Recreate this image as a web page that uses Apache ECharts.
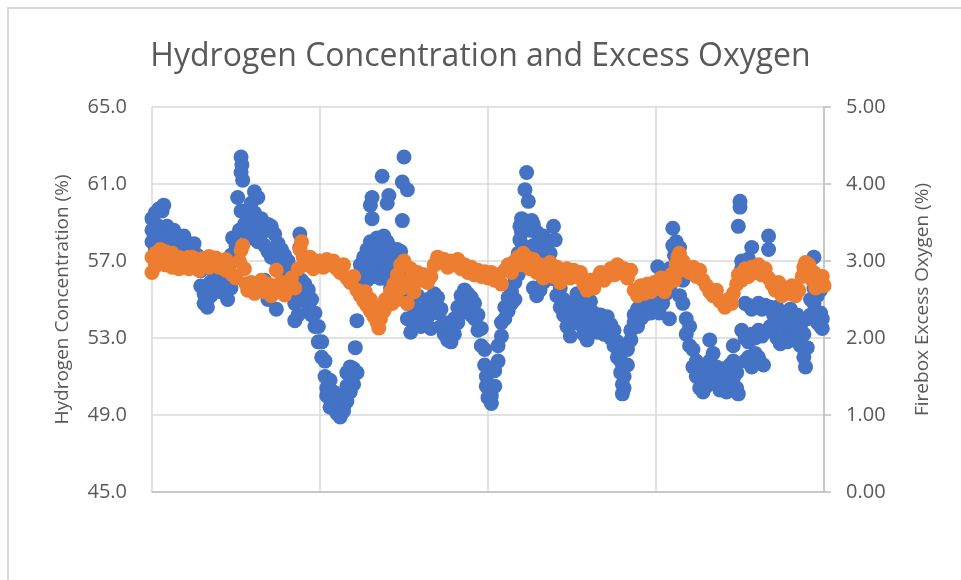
<!DOCTYPE html>
<html>
<head>
<meta charset="utf-8">
<title>Hydrogen Concentration and Excess Oxygen</title>
<script src="https://cdn.jsdelivr.net/npm/echarts@6/dist/echarts.min.js"></script>
<style>
  html, body { margin: 0; padding: 0; background: #fff; }
  #chart { width: 961px; height: 580px; }
</style>
</head>
<body>
<div id="chart"></div>
<script>
// each row: [x, reading, reading, ...]
var hydrogen = [
  [0, 58.0, 59.2, 58.6], [2, 59.5, 58.3, 57.6], [4, 59.7, 58.8], [6, 59.6, 58.2], [7, 59.9],
  [9, 58.8, 58.0], [11, 58.5, 57.9], [13, 58.6], [15, 58.3, 57.8], [17, 58.1],
  [19, 58.3, 57.5], [21, 57.9], [23, 57.6, 56.9], [25, 57.9], [27, 57.3],
  [29, 56.5, 55.7], [31, 55.3, 54.8], [33, 55.0, 54.6], [35, 55.2, 55.9], [37, 56.4, 55.5],
  [39, 55.8, 56.8], [41, 56.2, 55.4], [43, 56.8, 55.8], [45, 56.0, 55.0], [47, 57.3, 55.6],
  [48, 58.2, 57.0], [50, 57.8], [51, 57.2, 60.3], [52, 58.6], [53, 62.4, 61.6, 59.6],
  [53.5, 62.0], [54, 61.2], [55, 58.9], [57, 59.3, 58.2], [59, 60.0, 58.6],
  [61, 60.6, 59.5], [63, 60.3, 59.0, 58.0], [65, 59.2, 58.4], [67, 58.7, 57.8, 56.0], [69, 58.9, 57.5, 55.0],
  [71, 58.8, 57.2], [73, 58.4, 57.4], [74, 54.5], [75, 57.9, 56.8], [77, 57.6, 56.5],
  [79, 57.3, 56.2], [81, 57.0, 55.8], [83, 56.6, 55.4], [85, 55.6, 54.8, 53.9], [87, 55.2, 54.2],
  [88, 58.4, 57.7], [89, 56.0, 55.3], [91, 55.8, 55.1], [93, 55.5, 54.7], [95, 55.0, 54.2],
  [97, 54.3, 53.6], [99, 53.6, 52.8], [101, 52.8, 52.0], [103, 51.8, 51.0], [104, 50.4, 50.0],
  [106, 50.8, 49.8, 49.4], [108, 50.2, 49.4], [110, 49.8, 49.1], [112, 49.6, 48.9], [114, 49.4, 49.2, 50.0],
  [116, 50.5, 49.7, 51.2], [118, 51.5, 50.2, 51.0], [120, 51.4, 50.6], [121, 52.5], [122, 53.9, 51.2],
  [124, 56.8, 55.8], [126, 57.2, 56.3], [128, 57.6, 56.8, 56.0], [130, 58.0, 57.2, 56.4, 59.9], [131, 60.3, 59.2],
  [132, 57.8, 57.0, 56.2], [134, 58.2, 57.4, 56.5], [136, 57.9, 56.9, 56.1], [137, 61.4], [138, 58.3, 57.5, 56.6],
  [140, 58.0, 57.1, 56.3, 60.0], [141, 60.4], [142, 57.7, 56.8, 55.6], [144, 57.3, 56.5], [146, 57.6, 56.0],
  [148, 57.5, 56.6], [149, 59.1, 61.1], [150, 62.4, 56.0, 55.3], [152, 60.7, 54.8, 54.0], [154, 55.4, 53.3],
  [156, 54.6, 53.8], [158, 55.2, 54.4], [160, 54.2, 53.6], [162, 54.5, 53.8], [164, 55.0, 54.1],
  [166, 54.8, 53.5], [168, 55.3, 54.6], [170, 55.1, 54.3], [172, 54.5, 53.6], [174, 53.8, 53.2],
  [176, 53.3, 52.9], [178, 53.5, 52.8], [180, 54.0, 53.2], [182, 54.6, 53.8], [184, 55.2, 54.3],
  [186, 55.5, 54.6], [188, 55.3, 54.8], [190, 55.1, 54.2], [192, 54.8, 54.0], [194, 54.2, 53.4],
  [196, 53.5, 52.6], [198, 52.4, 51.6], [199, 51.0, 50.5], [200, 50.6, 49.9], [202, 50.0, 49.6],
  [204, 50.5, 51.3], [206, 51.8, 52.6], [208, 53.1, 53.8], [210, 54.0, 54.6], [212, 54.4, 55.1],
  [214, 55.4, 54.8], [216, 55.9, 55.0], [218, 56.3, 57.4], [219, 58.1, 58.8], [220, 59.2, 58.5],
  [221, 59.1], [222, 60.7], [223, 61.6], [224, 60.1, 57.7], [225, 58.6], [226, 59.1],
  [227, 58.9, 57.8, 55.6], [229, 58.5, 57.3, 55.2], [231, 58.0, 56.8, 55.5], [233, 58.3, 57.2, 55.9], [235, 57.8, 56.5],
  [237, 57.4, 56.1], [239, 58.8, 56.3], [240, 58.1], [241, 56.0, 55.2], [243, 55.6, 54.6],
  [245, 55.0, 54.2], [247, 54.5, 53.6], [249, 54.2, 53.1], [251, 54.8, 53.8], [253, 55.3, 54.5],
  [255, 54.8, 53.7], [257, 54.0, 53.2], [259, 54.6, 53.5, 52.9], [261, 54.9, 54.0], [263, 54.3, 53.6],
  [265, 54.0, 53.3], [267, 54.2, 53.5], [269, 53.8, 53.2], [271, 54.1, 53.4], [273, 53.7, 53.0],
  [275, 53.4, 52.6], [277, 52.8, 52.0], [279, 51.8, 51.2], [280, 50.6, 50.1], [281, 50.4, 51.0],
  [283, 51.6, 52.4], [285, 52.9, 53.4], [287, 53.8, 54.2], [289, 54.5, 53.6], [291, 54.8, 54.0],
  [293, 55.0, 54.2], [295, 55.2, 54.5], [297, 55.0, 54.3], [299, 55.4, 54.6], [301, 56.7],
  [302, 56.0, 55.2, 54.3], [304, 55.8, 54.8], [306, 56.2, 55.3], [308, 56.6, 55.6, 54.0], [310, 58.7, 57.8],
  [311, 57.3], [312, 58.0, 56.2], [314, 57.7, 56.5, 55.2], [316, 56.0, 54.8], [318, 54.0, 53.2],
  [320, 53.6, 52.6], [322, 52.4, 51.5], [324, 51.8, 51.0], [326, 51.2, 50.4], [328, 50.8, 50.2],
  [330, 51.6, 50.5], [332, 52.9, 51.8, 50.8], [334, 52.2, 51.0], [336, 51.5, 50.6], [338, 51.0, 50.3],
  [340, 51.4, 50.5], [342, 50.8, 50.2], [344, 51.6, 50.6], [346, 52.6, 51.8, 50.9], [348, 51.2, 50.4],
  [349, 50.1, 58.8], [350, 60.1, 59.8], [351, 57.0, 56.6, 53.4], [353, 56.8, 53.0, 54.8, 51.8], [355, 57.1, 54.7, 52.8, 52.0],
  [357, 57.7, 54.5, 53.2, 51.5], [359, 54.6, 53.0, 52.2], [361, 54.8, 53.4, 52.0], [363, 54.5, 53.1], [364, 51.6],
  [365, 54.7, 53.3], [367, 58.3, 57.6], [368, 54.6, 53.6], [370, 54.2, 53.4], [372, 54.6, 53.0],
  [374, 53.8, 52.7], [376, 54.3, 53.2], [378, 54.0, 52.8], [380, 54.5, 53.5], [382, 53.8, 52.9],
  [384, 54.2, 53.4], [386, 53.6, 52.6], [388, 53.2, 52.0], [389, 51.5], [390, 54.0, 52.5],
  [392, 55.0, 54.2], [394, 55.6, 54.8, 57.2], [396, 56.2, 55.2, 53.8], [398, 55.5, 54.3, 53.6], [399, 54.0, 53.5]
];

var oxygen = [
  [0, 2.85, 3.05], [2, 3.1, 2.95], [3, 2.95], [5, 3.15, 3.0], [7, 3.0], [8, 3.12, 2.95],
  [10, 3.02], [12, 3.1, 2.92], [14, 2.95], [16, 3.05, 2.9], [18, 2.92], [20, 3.0], [22, 2.9, 3.05], [24, 3.05],
  [26, 2.95], [28, 2.88, 3.02], [30, 3.03], [32, 2.95], [34, 3.06, 2.92], [36, 2.98], [38, 3.04], [40, 2.92],
  [42, 3.0], [44, 2.88, 3.02], [46, 2.96], [48, 2.82], [50, 2.78], [52, 3.0], [53, 3.14], [54, 3.2],
  [55, 2.9], [56, 2.7], [57, 2.62], [59, 2.72], [61, 2.58], [63, 2.68], [65, 2.75], [67, 2.6],
  [69, 2.7], [71, 2.55], [73, 2.68], [74, 2.88], [75, 2.62], [77, 2.72], [79, 2.56], [81, 2.68],
  [83, 2.78], [85, 2.65], [87, 2.9], [88, 3.15], [89, 3.25], [90, 3.05], [92, 2.95], [94, 3.05],
  [96, 2.9], [98, 3.0], [100, 3.0], [102, 2.92], [104, 3.02], [106, 2.95], [108, 3.0], [110, 2.9],
  [112, 2.85], [114, 2.95], [116, 2.78], [118, 2.72], [120, 2.8], [122, 2.62], [124, 2.55], [126, 2.48],
  [127, 2.6], [128, 2.42], [130, 2.35, 2.5], [132, 2.28], [133, 2.4], [134, 2.2], [135, 2.13], [136, 2.25],
  [138, 2.35], [139, 2.5], [140, 2.42], [142, 2.6], [143, 2.45], [144, 2.7], [146, 2.82, 2.5], [148, 2.95],
  [149, 2.65], [150, 3.0], [152, 2.45], [153, 2.75], [154, 2.9], [156, 2.6], [158, 2.85], [160, 2.75],
  [162, 2.82], [164, 2.72], [166, 2.8], [168, 2.95], [170, 3.05], [172, 2.98], [174, 3.02], [176, 2.92],
  [178, 3.0], [180, 2.95], [182, 3.02], [184, 2.9], [186, 2.95], [188, 2.85], [190, 2.92], [192, 2.82],
  [194, 2.88], [196, 2.8], [198, 2.86], [200, 2.78], [202, 2.85], [204, 2.75], [206, 2.82], [208, 2.7],
  [210, 2.88], [212, 2.95], [214, 2.85], [216, 3.0], [218, 3.05], [220, 2.95], [221, 3.1], [223, 3.05],
  [225, 2.9], [227, 3.02], [229, 2.85], [231, 2.95], [233, 2.78], [235, 2.9], [237, 2.98], [239, 2.8],
  [241, 2.92], [243, 2.72], [245, 2.85], [247, 2.9], [249, 2.78], [251, 2.88], [253, 2.8], [255, 2.85],
  [257, 2.7], [259, 2.62], [261, 2.75], [263, 2.65], [265, 2.78], [267, 2.85], [269, 2.75], [271, 2.8],
  [273, 2.9], [275, 2.82], [277, 2.95], [279, 2.85], [281, 2.9], [283, 2.78], [285, 2.88], [287, 2.62],
  [289, 2.55], [291, 2.68], [293, 2.58], [295, 2.7], [297, 2.6], [299, 2.72], [301, 2.65], [303, 2.78],
  [305, 2.6], [307, 2.7], [309, 2.82], [311, 2.75], [312, 2.95], [313, 3.05], [314, 3.1], [315, 2.88],
  [316, 3.0], [318, 2.9], [320, 2.85], [322, 2.92], [324, 2.8], [326, 2.88], [328, 2.75], [330, 2.68],
  [332, 2.6], [334, 2.55], [336, 2.62], [338, 2.48], [340, 2.45], [341, 2.4], [343, 2.5], [345, 2.45],
  [346, 2.58], [348, 2.7], [349, 2.82], [351, 2.75], [353, 2.9], [355, 2.8], [357, 2.92], [359, 2.85],
  [361, 2.95], [363, 2.82], [365, 2.9], [367, 2.78], [369, 2.7], [371, 2.62], [373, 2.72], [375, 2.55],
  [377, 2.65], [379, 2.58], [381, 2.68], [383, 2.55], [385, 2.62], [387, 2.8], [388, 2.92], [389, 2.98],
  [390, 2.85], [391, 2.95], [393, 2.75], [394, 2.85], [395, 2.65], [396, 2.78], [398, 2.7], [399, 2.8],
  [400, 2.68]
];

var leftTicks = [45, 65, 4];
var rightTicks = [0, 5, 1];

function flatten(rows) {
  var out = [];
  for (var i = 0; i < rows.length; i++) {
    for (var j = 1; j < rows[i].length; j++) {
      out.push([rows[i][0], rows[i][j]]);
    }
  }
  return out;
}

var textColor = '#595959';
var font = '"Open Sans", "Liberation Sans", sans-serif';

var chart = echarts.init(document.getElementById('chart'));
chart.setOption({
  animation: false,
  backgroundColor: '#fff',
  textStyle: { fontFamily: font },
  title: {
    text: 'Hydrogen Concentration and Excess Oxygen',
    left: 'center',
    top: 36,
    textStyle: { color: textColor, fontSize: 32, fontWeight: 'normal', fontFamily: font }
  },
  graphic: [{
    type: 'polyline',
    shape: { points: [[8, 580], [8, 8], [961, 8]] },
    style: { stroke: '#d9d9d9', lineWidth: 2, fill: null },
    silent: true
  }],
  grid: { left: 152, right: 137, top: 107, bottom: 88 },
  xAxis: {
    type: 'value',
    min: 0,
    max: 400,
    interval: 100,
    axisLabel: { show: false },
    axisTick: { show: false },
    axisLine: { show: true, lineStyle: { color: '#bfbfbf', width: 1.5 } },
    splitLine: { show: true, lineStyle: { color: '#d9d9d9', width: 1.5 } }
  },
  yAxis: [{
    type: 'value',
    position: 'left',
    min: leftTicks[0],
    max: leftTicks[1],
    interval: leftTicks[2],
    name: 'Hydrogen Concentration (%)',
    nameLocation: 'middle',
    nameGap: 80,
    nameTextStyle: { color: textColor, fontSize: 19, fontFamily: font },
    axisLine: { show: false },
    axisTick: { show: false },
    axisLabel: {
      color: textColor, fontSize: 20, margin: 25, fontFamily: font,
      formatter: function (v) { return v.toFixed(1); }
    },
    splitLine: { show: true, lineStyle: { color: '#d9d9d9', width: 1.5 } }
  }, {
    type: 'value',
    position: 'right',
    min: rightTicks[0],
    max: rightTicks[1],
    interval: rightTicks[2],
    name: 'Firebox Excess Oxygen (%)',
    nameLocation: 'middle',
    nameGap: 89,
    nameRotate: 90,
    nameTextStyle: { color: textColor, fontSize: 19, fontFamily: font },
    axisLine: { show: true, lineStyle: { color: '#bfbfbf', width: 1.5 } },
    axisTick: { show: true, inside: false, length: 7, lineStyle: { color: '#bfbfbf', width: 1.5 } },
    axisLabel: {
      color: textColor, fontSize: 20, margin: 22, fontFamily: font,
      formatter: function (v) { return v.toFixed(2); }
    },
    splitLine: { show: false }
  }],
  series: [{
    name: 'Hydrogen Concentration',
    type: 'scatter',
    yAxisIndex: 0,
    symbolSize: 15,
    clip: false,
    itemStyle: { color: '#4472c4', opacity: 1 },
    data: flatten(hydrogen)
  }, {
    name: 'Firebox Excess Oxygen',
    type: 'scatter',
    yAxisIndex: 1,
    symbolSize: 15,
    clip: false,
    itemStyle: { color: '#ed7d31', opacity: 1 },
    data: flatten(oxygen)
  }]
});
</script>
</body>
</html>
